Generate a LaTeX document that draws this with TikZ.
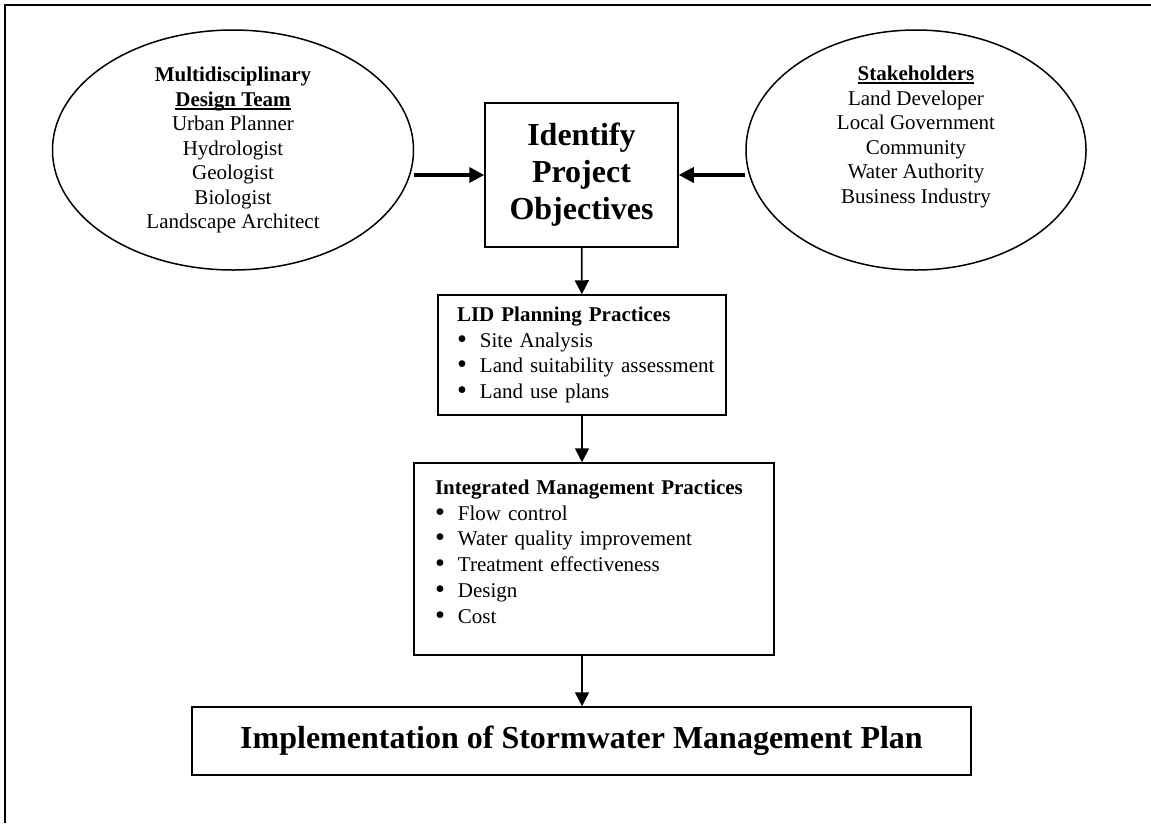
\documentclass[tikz,border=0pt]{standalone}
\usepackage{fontspec}
\usepackage{graphicx}
\setmainfont{Liberation Serif}
\usetikzlibrary{shapes.geometric,arrows.meta}
\newcommand{\ulhead}[1]{\setbox0=\hbox{#1}\rlap{\rule[-3.5pt]{\wd0}{1.8pt}}\box0}
\newcommand{\itm}[1]{\mbox{\raisebox{-1pt}{\scalebox{1.35}{\textbullet}}\hspace{13pt}#1}}

\begin{document}
\begin{tikzpicture}[x=1pt,y=1pt,
  bubble/.style={draw,ellipse,line width=1.5pt,minimum width=361pt,minimum height=240pt,inner sep=0pt,align=center,font=\fontsize{21}{24.5}\selectfont},
  framebox/.style={draw,rectangle,line width=1.5pt,inner sep=0pt,align=center,font=\fontsize{32}{37}\selectfont\bfseries},
  listbox/.style={draw,rectangle,line width=1.5pt,align=left,inner ysep=0pt,font=\fontsize{21}{25.8}\selectfont},
  fatarrow/.style={line width=3.5pt,-{Triangle[length=15pt,width=15pt]}},
  slimarrow/.style={line width=1.8pt,-{Triangle[length=14pt,width=14pt]}}]
  \useasboundingbox (0,0) rectangle (1151,-823);
  % frame
  \draw[line width=2.5pt] (5,-823) -- (5,-5) -- (1151,-5);
  % team and stakeholders
  \node[bubble] (dteam) at (233,-150) {\textbf{Multidisciplinary}\\ \textbf{\ulhead{Design Team}}\\ Urban Planner\\ Hydrologist\\ Geologist\\ Biologist\\ Landscape Architect};
  \node[bubble,minimum width=340pt] (stake) at (916,-150) {\textbf{\ulhead{Stakeholders}}\\ Land Developer\\ Local Government\\ Community\\ Water Authority\\ Business Industry\\[6pt] \mbox{}};
  % boxes
  \node[framebox,minimum width=193pt,minimum height=144pt] (goals) at (581.5,-175) {Identify\\ Project\\ Objectives};
  \node[listbox,inner xsep=19pt,text width=250pt,minimum height=120pt] (lid) at (582,-355) {\textbf{LID Planning Practices}\\ \itm{Site Analysis}\\ \itm{Land suitability assessment}\\ \itm{Land use plans}};
  \node[listbox,inner xsep=21pt,text width=318pt,minimum height=192pt] (imp) at (594,-559) {\textbf{Integrated Management Practices}\\ \itm{Flow control}\\ \itm{Water quality improvement}\\ \itm{Treatment effectiveness}\\ \itm{Design}\\ \itm{Cost}\\[-11pt]\mbox{}};
  \node[framebox,minimum width=779pt,minimum height=68pt] (impl) at (581.5,-741) {Implementation of Stormwater Management Plan};
  % arrows
  \draw[fatarrow] (dteam.east |- goals.west) -- (goals.west);
  \draw[fatarrow] (stake.west |- goals.east) -- (goals.east);
  \draw[slimarrow] (goals) -- (lid);
  \draw[slimarrow] (lid.south) -- (lid.south |- imp.north);
  \draw[slimarrow] (lid.south |- imp.south) -- (lid.south |- impl.north);
\end{tikzpicture}
\end{document}
